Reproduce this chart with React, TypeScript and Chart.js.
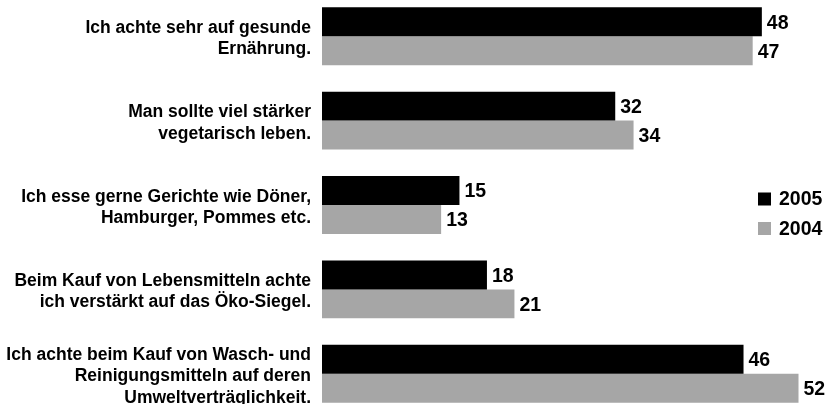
import React, { useEffect, useRef } from "react";
import { Chart, registerables } from "chart.js";

Chart.register(...registerables);

const categories: string[][] = [
  ["Ich achte sehr auf gesunde", "Ernährung."],
  ["Man sollte viel stärker", "vegetarisch leben."],
  ["Ich esse gerne Gerichte wie Döner,", "Hamburger, Pommes etc."],
  ["Beim Kauf von Lebensmitteln achte", "ich verstärkt auf das Öko-Siegel."],
  ["Ich achte beim Kauf von Wasch- und", "Reinigungsmitteln auf deren", "Umweltverträglichkeit."],
];
const series2005: number[] = [48, 32, 15, 18, 46];
const series2004: number[] = [47, 34, 13, 21, 52];
const seriesNames: string[] = ["2005", "2004"];
const seriesColors: string[] = ["#000000", "#a6a6a6"];

const FONT = "'Liberation Sans', Arial, sans-serif";
const CANVAS_TOP = -10;

const valueLabels = {
  id: "valueLabels",
  afterDatasetsDraw(chart: any) {
    const ctx = chart.ctx;
    ctx.save();
    ctx.font = `bold 19.5px ${FONT}`;
    ctx.fillStyle = "#000";
    ctx.textAlign = "left";
    ctx.textBaseline = "middle";
    chart.data.datasets.forEach((ds: any, i: number) => {
      const meta = chart.getDatasetMeta(i);
      meta.data.forEach((el: any, j: number) => {
        ctx.fillText(String(ds.data[j]), el.x + 5, el.y + 1.5);
      });
    });
    ctx.restore();
  },
};

const customLegend = {
  id: "customLegend",
  afterDraw(chart: any) {
    const ctx = chart.ctx;
    ctx.save();
    ctx.font = `bold 19.5px ${FONT}`;
    ctx.textAlign = "left";
    ctx.textBaseline = "middle";
    const ys = [199 - CANVAS_TOP, 228.5 - CANVAS_TOP];
    chart.data.datasets.forEach((ds: any, i: number) => {
      const y = ys[i];
      ctx.fillStyle = ds.backgroundColor;
      ctx.fillRect(758, y - 6.5, 13, 13);
      ctx.fillStyle = "#000";
      ctx.fillText(ds.label, 779, y + 1);
    });
    ctx.restore();
  },
};

export default function App() {
  const ref = useRef<HTMLCanvasElement | null>(null);

  useEffect(() => {
    if (!ref.current) return;
    const chart = new Chart(ref.current, {
      type: "bar",
      data: {
        labels: categories as any,
        datasets: [
          { label: seriesNames[0], data: series2005, backgroundColor: seriesColors[0] },
          { label: seriesNames[1], data: series2004, backgroundColor: seriesColors[1] },
        ],
      },
      options: {
        indexAxis: "y",
        animation: false,
        responsive: false,
        maintainAspectRatio: false,
        devicePixelRatio: 1,
        datasets: {
          bar: { barPercentage: 1, categoryPercentage: 0.686 },
        },
        layout: { padding: { top: 4, bottom: 4, left: 0, right: 3 } },
        plugins: {
          legend: { display: false },
          tooltip: { enabled: false },
        },
        scales: {
          x: {
            display: false,
            min: 0,
            max: 55,
          },
          y: {
            grid: { display: false, drawTicks: false },
            border: { display: false },
            ticks: {
              padding: 11,
              labelOffset: 2.5,
              color: "#000",
              font: { family: FONT, size: 17.5, weight: "bold", lineHeight: 1.23 },
            },
            afterFit(scale: any) {
              scale.width = 322;
              scale.paddingTop = 0;
              scale.paddingBottom = 0;
            },
          },
        },
      },
      plugins: [valueLabels, customLegend],
    });
    return () => chart.destroy();
  }, []);

  return (
    <div
      style={{
        position: "fixed",
        top: 0,
        left: 0,
        width: 829,
        height: 404,
        overflow: "hidden",
        background: "#fff",
      }}
    >
      <canvas
        ref={ref}
        width={829}
        height={430}
        style={{ position: "absolute", top: CANVAS_TOP, left: 0, width: 829, height: 430 }}
      />
    </div>
  );
}
